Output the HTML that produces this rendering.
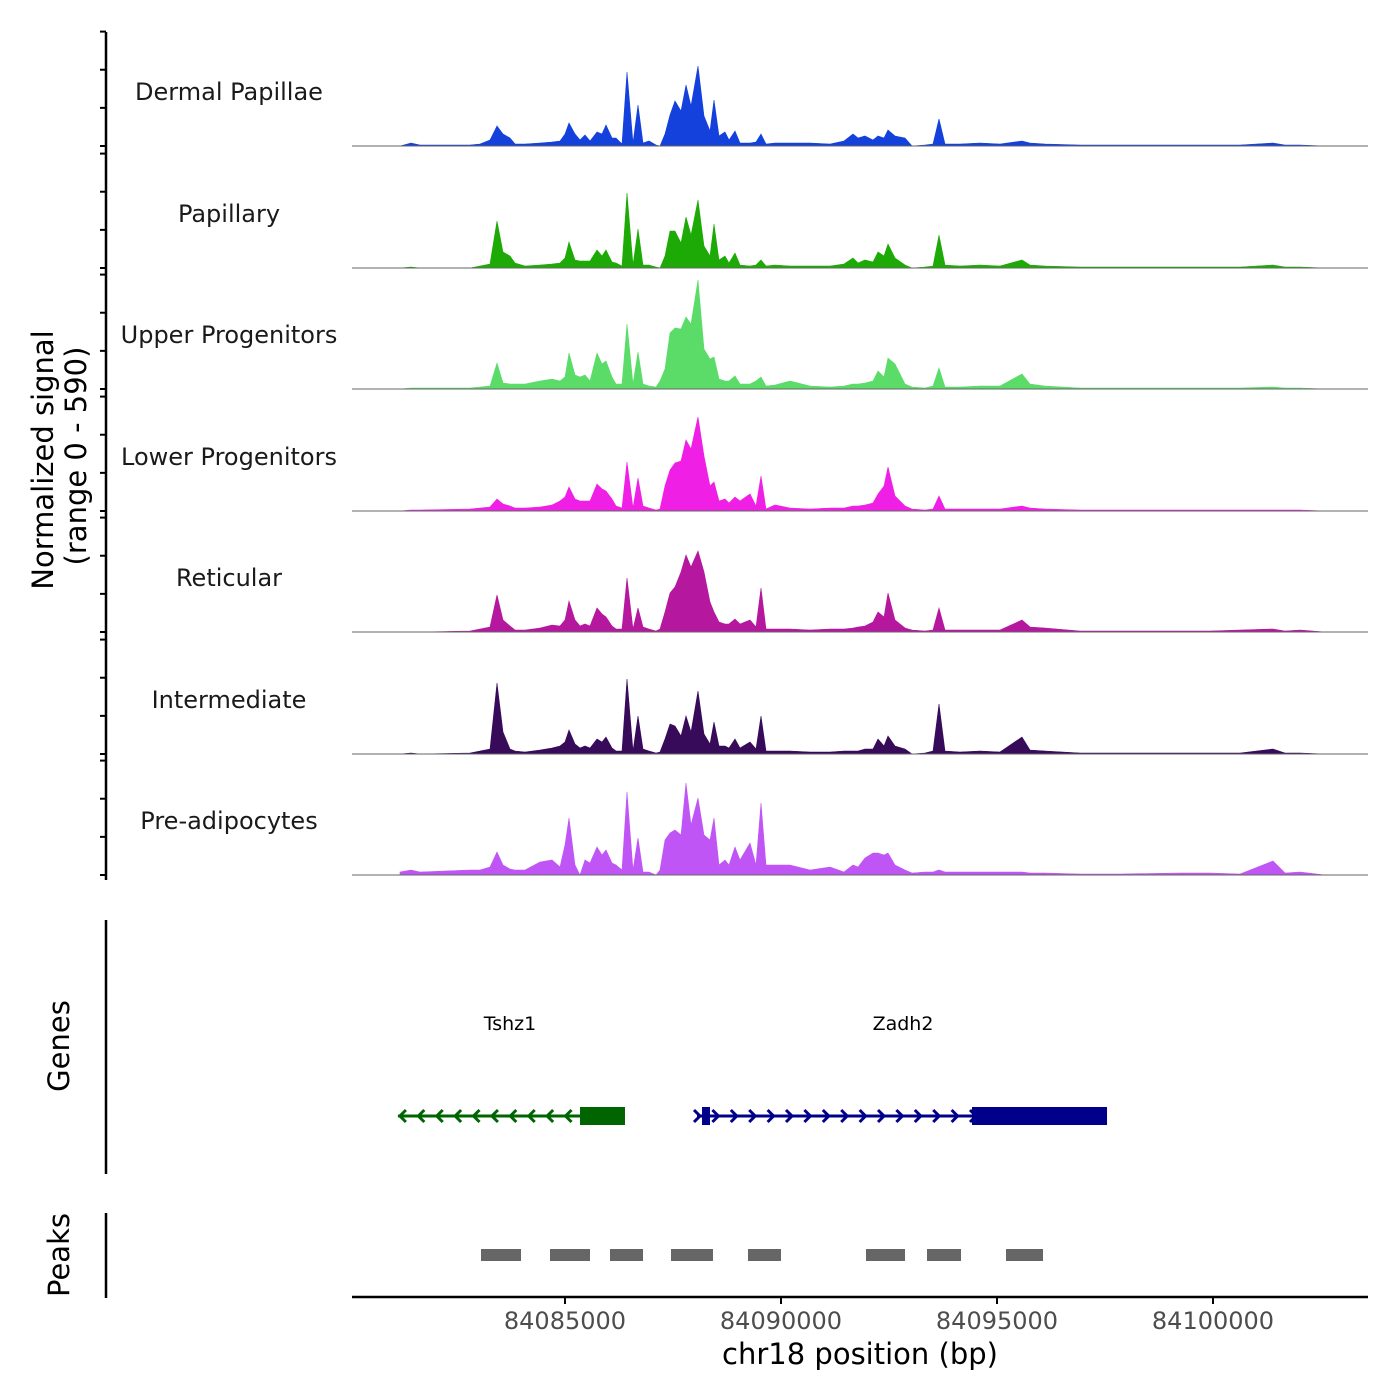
<!DOCTYPE html>
<html><head><meta charset="utf-8"><style>
html,body{margin:0;padding:0;background:#fff;}
svg{display:block;font-family:"DejaVu Sans","Liberation Sans",sans-serif;}
</style></head><body>
<svg id="chart" width="1400" height="1400" viewBox="0 0 1400 1400" xmlns="http://www.w3.org/2000/svg">
<rect x="0" y="0" width="1400" height="1400" fill="#fff"/>
<g id="tracks"></g>
<g id="yaxis"></g>
<g id="genes"></g>
<g id="peaks"></g>
<g id="xaxis"></g>
<text transform="translate(53,460) rotate(-90)" text-anchor="middle" font-size="29" fill="#000">Normalized signal</text>
<text transform="translate(86,456) rotate(-90)" text-anchor="middle" font-size="29" fill="#000">(range 0 - 590)</text>
<text transform="translate(69,1046) rotate(-90)" text-anchor="middle" font-size="29" fill="#000">Genes</text>
<text transform="translate(69,1255) rotate(-90)" text-anchor="middle" font-size="29" fill="#000">Peaks</text>
<text x="860" y="1364" text-anchor="middle" font-size="29" fill="#000">chr18 position (bp)</text>
</svg>
<script>
const positions = [84081181,84081436,84081644,84082801,84083033,84083264,84083426,84083565,84083727,84083843,84084075,84084422,84084700,84084885,84085001,84085093,84085232,84085348,84085463,84085579,84085741,84085857,84085950,84086088,84086181,84086320,84086436,84086575,84086690,84086806,84086945,84087107,84087200,84087315,84087431,84087547,84087686,84087801,84087917,84088079,84088218,84088357,84088450,84088565,84088704,84088797,84088936,84089051,84089283,84089422,84089538,84089653,84089862,84090209,84090672,84091135,84091459,84091667,84091783,84091945,84092130,84092246,84092385,84092477,84092639,84092871,84093033,84093334,84093519,84093658,84093797,84094144,84094607,84095070,84095579,84095764,84096112,84096922,84097848,84099237,84099931,84100625,84101389,84101667,84102014,84102593];
const trackNames = ["Dermal Papillae","Papillary","Upper Progenitors","Lower Progenitors","Reticular","Intermediate","Pre-adipocytes"];
const trackColors = ["#1440dc","#1eaa06","#5bdc69","#f01fe6","#b5179f","#370b5a","#c055f6"];
const dermalPapillae = [0,3,1,1,2,6,20,12,8,2,2,3,4,5,12,23,12,6,11,5,14,12,21,8,8,2,74,3,41,3,5,1,0,12,31,45,35,61,40,80,30,15,46,10,14,6,15,3,3,4,12,2,3,3,3,2,5,12,8,10,6,10,8,16,10,8,0,1,2,27,2,2,3,2,5,3,2,1,1,1,1,1,3,1,1,0];
const papillary = [0,1,0,0,2,4,47,16,12,5,2,3,4,5,10,26,8,7,7,7,18,12,18,6,5,2,75,3,39,3,3,1,0,12,37,37,25,51,33,68,22,12,44,8,12,5,15,3,2,3,8,2,3,2,2,2,4,10,5,8,6,16,12,24,10,3,0,1,2,33,3,2,3,2,8,3,2,1,1,1,1,1,3,1,1,0];
const upperProgenitors = [0,1,1,1,2,3,26,6,5,5,5,8,10,8,12,36,14,12,14,8,36,25,28,12,5,5,65,5,37,5,3,2,8,20,56,61,60,72,65,109,40,30,32,10,8,8,13,5,5,8,12,3,4,8,3,2,3,5,5,6,8,18,12,31,25,5,2,1,3,21,2,2,3,3,15,5,3,1,1,1,1,1,2,1,1,0];
const lowerProgenitors = [0,1,1,2,3,4,12,7,5,3,3,4,6,10,14,24,12,10,10,10,27,22,20,12,5,3,49,3,33,5,3,1,2,25,41,48,50,71,62,94,55,25,29,10,12,8,14,10,17,5,35,2,6,3,2,3,3,5,5,6,8,17,25,44,15,5,2,1,2,15,2,2,2,2,5,3,2,1,1,1,1,1,1,1,1,0];
const reticular = [0,0,0,1,3,5,37,12,6,2,2,4,7,6,12,31,12,6,8,6,24,18,15,6,3,3,54,3,24,5,3,1,3,20,39,45,60,77,65,81,60,30,20,10,8,8,13,8,12,5,44,3,3,3,2,3,3,4,5,6,10,20,15,39,12,4,2,1,2,24,2,2,2,2,12,5,4,1,1,1,1,2,3,1,2,0];
const intermediate = [0,1,0,1,3,5,71,22,5,3,2,4,6,8,12,24,10,6,8,6,15,12,17,6,3,3,75,3,38,5,3,1,2,15,30,28,18,38,22,63,20,10,32,8,8,6,15,6,12,5,38,3,3,3,2,2,3,3,3,5,5,15,8,18,8,5,0,1,3,50,3,2,3,2,17,4,3,1,1,1,1,1,5,1,1,0];
const preAdipocytes = [3,5,3,5,5,8,23,10,6,5,5,13,15,8,30,57,10,0,15,12,28,20,25,12,10,5,83,5,37,3,3,0,5,35,42,45,40,92,50,77,40,35,57,10,15,10,28,15,32,10,72,10,10,10,5,8,3,10,8,17,22,22,20,22,10,5,2,3,3,5,3,3,3,3,3,2,2,1,1,2,2,1,14,2,3,0];
const xTicks = [84085000,84090000,84095000,84100000];
const xTickLabels = ["84085000","84090000","84095000","84100000"];
const geneNames = ["Tshz1","Zadh2"];
const geneStarts = [84081133,84088056];
const geneEnds = [84086389,84097547];
const geneStrands = [-1,1];
const exonStarts = [[84085348],[84088172,84094422]];
const exonEnds = [[84086389],[84088357,84097547]];
const peakStarts = [84083056,84084653,84086042,84087454,84089236,84091968,84093380,84095209];
const peakEnds = [84083982,84085579,84086806,84088426,84090000,84092871,84094167,84096065];

const series=[dermalPapillae,papillary,upperProgenitors,lowerProgenitors,reticular,intermediate,preAdipocytes];
const NS="http://www.w3.org/2000/svg";
const X0=84080070,X1=84103588,PX0=352,PX1=1368;
function xs(bp){return PX0+(bp-X0)/(X1-X0)*(PX1-PX0);}
const YMAX=110.6, PH=110.6;
const baselines=[146,268,389,511,632,754,875];
function ys(v,b){return b-v/YMAX*PH;}
function mk(tag,attrs,parent){const e=document.createElementNS(NS,tag);for(const k in attrs)e.setAttribute(k,attrs[k]);parent.appendChild(e);return e;}
const tg=document.getElementById('tracks');
series.forEach((vals,i)=>{
  const b=baselines[i];
  const g=mk('g',{},tg);
  
  
  let d='M'+xs(positions[0]).toFixed(1)+','+b;
  vals.forEach((v,j)=>{d+='L'+xs(positions[j]).toFixed(1)+','+ys(v,b).toFixed(1);});
  d+='L'+xs(positions[positions.length-1]).toFixed(1)+','+b+'Z';
  const p=mk('path',{d:d,fill:trackColors[i],stroke:trackColors[i],'stroke-width':'0.6'},g);
  
  
  const l=mk('line',{x1:PX0,x2:PX1,y1:b,y2:b,stroke:'#666','stroke-width':'1'},g);
  
  
  const t=mk('text',{x:229,y:b-46,'text-anchor':'middle','font-size':'24',fill:'#1a1a1a'},g);
  t.textContent=trackNames[i];
  
  
});
const ya=document.getElementById('yaxis');
const yl=mk('line',{x1:106,x2:106,y1:32,y2:880,stroke:'#000','stroke-width':'2.5'},ya);


const yTickVals=[0,200,400,600];
baselines.forEach(b=>{yTickVals.forEach(v=>{const y=b-v/590*112.5;if(y<30)return;
  const t=mk('line',{x1:100,x2:106,y1:y,y2:y,stroke:'#000','stroke-width':'2'},ya);
  
  });});
const gl=mk('line',{x1:106,x2:106,y1:920,y2:1174,stroke:'#000','stroke-width':'2.5'},ya);


const pl=mk('line',{x1:106,x2:106,y1:1213,y2:1298,stroke:'#000','stroke-width':'2.5'},ya);


const gg=document.getElementById('genes');
const GY=1116;
geneNames.forEach((n,i)=>{
  const col=i===0?'#006400':'#00008b';
  const g=mk('g',{},gg);
  
  
  const x1=xs(geneStarts[i]),x2=xs(geneEnds[i]);
  mk('line',{x1:x1,x2:x2,y1:GY,y2:GY,stroke:col,'stroke-width':'3'},g);
  const dir=geneStrands[i];
  for(let x=x1+2;x<x2-8;x+=18.4){
    const a=mk('path',{d:dir<0?`M${x+6},${GY-6}L${x},${GY}L${x+6},${GY+6}`:`M${x-5},${GY-6}L${x+1},${GY}L${x-5},${GY+6}`,fill:'none',stroke:col,'stroke-width':'3'},g);
    
    
  }
  exonStarts[i].forEach((s,k)=>{
    const r=mk('rect',{x:xs(s),y:GY-9,width:xs(exonEnds[i][k])-xs(s),height:18,fill:col},g);
    
    
  });
  const t=mk('text',{x:i===0?510:903,y:1030,'text-anchor':'middle','font-size':'19',fill:'#000'},g);
  t.textContent=n;
  
  
});
const pg=document.getElementById('peaks');
peakStarts.forEach((s,i)=>{
  const r=mk('rect',{x:xs(s),y:1249,width:xs(peakEnds[i])-xs(s),height:12,fill:'#666'},pg);
  
  
});
const xa=document.getElementById('xaxis');
const xl=mk('line',{x1:PX0,x2:PX1,y1:1297,y2:1297,stroke:'#000','stroke-width':'2.5'},xa);


xTicks.forEach((v,i)=>{
  const x=xs(v);
  const t=mk('line',{x1:x,x2:x,y1:1297,y2:1304,stroke:'#000','stroke-width':'2'},xa);
  
  
  const tx=mk('text',{x:x,y:1329,'text-anchor':'middle','font-size':'24',fill:'#4d4d4d'},xa);
  tx.textContent=xTickLabels[i];
  
  
});
</script>
</body></html>
